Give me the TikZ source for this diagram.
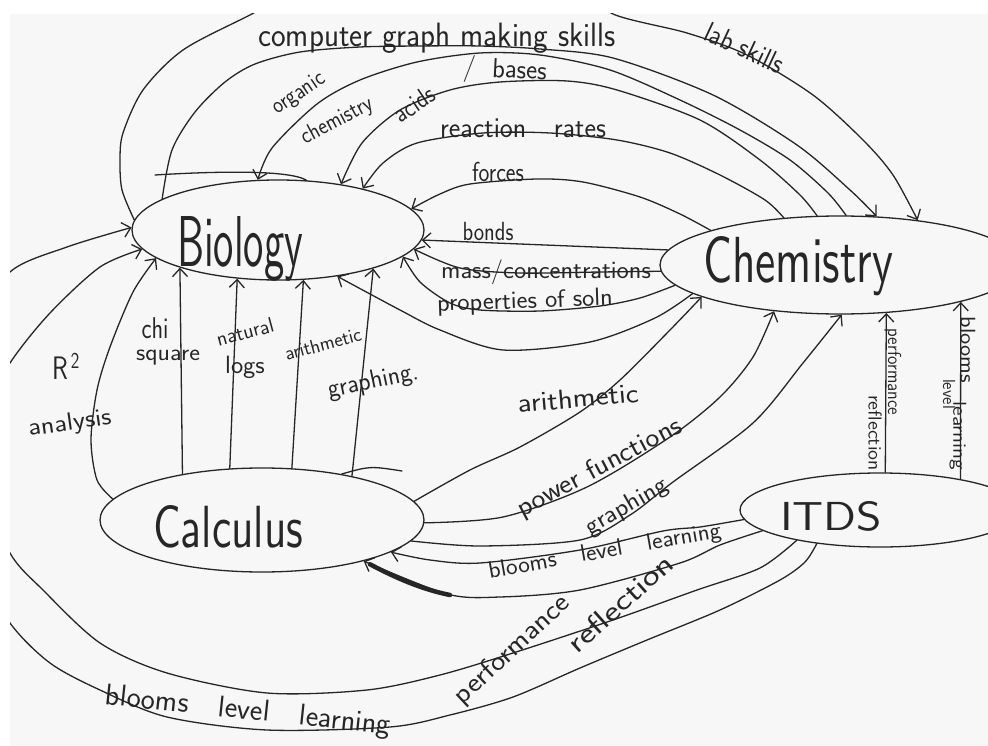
\documentclass[tikz,border=0pt]{standalone}
\usetikzlibrary{shapes.geometric,arrows.meta}
\newcommand\mylbl[3]{\scalebox{#2}[1.25]{\fontsize{#1}{#1}\selectfont\sffamily #3}}
\newcommand\mybig[3]{\resizebox{#1pt}{#2pt}{\sffamily #3}}
\begin{document}
\begin{tikzpicture}[x=1pt,y=-1pt,line cap=round,line join=round,
  ln/.style={draw=black!85,line width=1.3pt},
  arw/.style={ln,-{Straight Barb[length=8pt,width=15pt]}},
  ell/.style={ellipse,draw=black!85,line width=1.3pt,inner sep=0pt},
  lb/.style={inner sep=0pt,text=black!85},
  thk/.style={draw=black!85,line width=4.5pt}]
\useasboundingbox (0,0) rectangle (988,746);
\fill[black!3] (10,14) rectangle (988,746);
\begin{scope}
\clip (10,14) rectangle (988,746);
% ---------- concept nodes ----------
\node[ell,minimum width=292pt,minimum height=100pt] (bio) at (278,230) {};
\node[ell,minimum width=360pt,minimum height=98pt] (chem) at (840,265) {};
\node[ell,minimum width=324pt,minimum height=104pt] (calc) at (262,520) {};
\node[ell,minimum width=280pt,minimum height=74pt] (itds) at (880,510) {};
\node[lb,anchor=base west] (biot) at (177,267) {\mybig{126}{50}{Biology}};
\node[lb,anchor=base west] (chemt) at (703,283) {\mybig{190}{46}{Chemistry}};
\node[lb,anchor=base west] (calct) at (153,547) {\mybig{150}{42}{Calculus}};
\node[lb,anchor=base west] (itdst) at (780,530) {\mybig{102}{29}{ITDS}};
% hand-drawn overshoots of the ellipses
\coordinate (bov) at (155,175);
\coordinate (cov) at (402,471);
\draw[ln] (bio.60) .. controls (290,170) and (220,171) .. (bov);
\draw[ln] (calc.30) .. controls (370,466) .. (cov);
% ---------- Chemistry -> Biology (top arcs) ----------
\draw[arw] plot[smooth] coordinates {(chem.165) (680,214) (640,197) (583,182) (537,179) (470,184) (440,194) (bio.9)};
\draw[arw] plot[smooth] coordinates {(chem.140) (765,200) (720,175) (670,153) (617,140) (550,133) (483,133) (417,143) (383,163) (bio.26)};
\draw[arw] plot[smooth] coordinates {(chem.115) (800,195) (760,160) (700,120) (617,90) (567,81) (500,82) (450,90) (400,110) (362,143) (bio.36)};
\draw[arw] plot[smooth] coordinates {(chem.83) (828,193) (790,160) (740,130) (680,100) (610,70) (540,55) (480,53) (417,62) (360,80) (317,104) (272,148) (bio.112)};
% ---------- Biology -> Chemistry ----------
\draw[arw] plot[smooth] coordinates {(bio.165) (172,150) (195,112) (225,82) (255,64) (300,52) (360,47) (420,46) (480,46) (540,49) (613,58) (713,95) (797,145) (850,190) (chem.53)};
\draw[arw] plot[smooth] coordinates {(bio.176) (122,190) (120,160) (123,133) (143,90) (183,50) (250,15) (330,-25) (470,-40) (580,-15) (613,14) (687,33) (747,55) (813,95) (863,140) (893,175) (chem.30)};
% ---------- Chemistry -> Biology (right side) ----------
\draw[arw] (chem.175) -- (bio.356);
\draw[arw] plot[smooth] coordinates {(chem.182) (600,272) (520,273) (460,268) (bio.352)};
\draw[arw] plot[smooth] coordinates {(chem.187) (640,298) (600,306) (540,311) (480,310) (450,303) (420,282) (bio.348)};
\draw[arw] plot[smooth] coordinates {(chem.191) (655,318) (590,342) (503,350) (440,330) (400,310) (bio.322)};
% ---------- Calculus -> Biology ----------
\draw[arw] (calc.150) -- (bio.201);
\draw[arw] (calc.122) -- (bio.230);
\draw[arw] (calc.60) -- (bio.297);
\draw[arw] (calc.26) -- (bio.338);
\draw[arw] plot[smooth] coordinates {(calc.172) (97,480) (91,440) (97,390) (110,347) (133,292) (bio.193)};
% ---------- Calculus -> Chemistry ----------
\draw[arw] plot[smooth] coordinates {(calc.7) (470,470) (520,447) (580,412) (620,380) (670,330) (chem.193)};
\draw[arw] plot[smooth] coordinates {(calc.359) (503,517) (587,487) (670,437) (720,397) (753,357) (chem.215)};
\draw[arw] plot[smooth] coordinates {(calc.352) (480,546) (580,540) (630,515) (673,482) (753,423) (803,363) (chem.272)};
% ---------- ITDS -> Chemistry ----------
\draw[arw] (itds.82) -- (chem.314);
\draw[arw] (itds.21) -- (chem.343);
% ---------- ITDS -> Calculus ----------
\draw[arw] plot[smooth] coordinates {(itds.184) (700,527) (663,531) (580,550) (480,563) (430,560) (calc.346)};
\draw[arw] plot[smooth] coordinates {(itds.190) (720,545) (680,563) (580,590) (500,597) (447,594) (calc.338)};
\coordinate (tka) at (450,595);
\draw[thk,shorten >=7pt] (tka) .. controls (415,588) and (385,572) .. (calc.338);
% ---------- ITDS -> Biology (bottom loops) ----------
\draw[arw] plot[smooth] coordinates {(itds.208) (805,562) (780,580) (720,610) (647,640) (580,668) (513,697) (450,715) (390,727) (267,730) (167,717) (100,690) (50,663) (10,623) (-25,560) (-40,450) (-25,330) (10,272) (67,247) (bio.179)};
\draw[arw] plot[smooth] coordinates {(itds.200) (760,568) (697,590) (613,620) (513,653) (440,675) (367,690) (267,693) (167,673) (100,643) (43,590) (10,553) (-20,480) (-20,420) (10,363) (50,313) (100,267) (bio.188)};
% ---------- labels ----------
\node[lb] (t1) at (437,38) {\mylbl{27}{1.15}{computer graph making skills}};
\node[lb,rotate=-25] (t2) at (745,48) {\mylbl{23}{1.1}{lab skills}};
\node[lb,rotate=34] (t3) at (299,94) {\mylbl{19}{1.1}{organic}};
\node[lb,rotate=28] (t4) at (337,121) {\mylbl{19}{1.1}{chemistry}};
\node[lb,rotate=34] (t5) at (414,104) {\mylbl{21}{1.1}{acids}};
\node[lb,rotate=-3] (t6) at (505,71) {\mylbl{22}{1.2}{/\ \ bases}};
\node[lb] (t7) at (523,128) {\mylbl{23}{1.2}{reaction\quad rates}};
\node[lb] (t8) at (498,172) {\mylbl{22}{1.05}{forces}};
\node[lb] (t9) at (488,231) {\mylbl{21}{1.05}{bonds}};
\node[lb] (t10) at (546,272) {\mylbl{20}{1.3}{mass/concentrations}};
\node[lb,rotate=2] (t11) at (525,302) {\mylbl{20}{1.3}{properties of soln}};
\node[lb] (t12) at (66,366) {\mylbl{26}{1}{R\textsuperscript{\,2}}};
\node[lb,rotate=8] (t13) at (70,424) {\mylbl{20}{1.4}{analysis}};
\node[lb] (t14) at (155,328) {\mylbl{24}{1}{chi}};
\node[lb] (t15) at (168,358) {\mylbl{19}{1.35}{square}};
\node[lb,rotate=15] (t16) at (245,332) {\mylbl{17}{1.25}{natural}};
\node[lb] (t17) at (245,367) {\mylbl{20}{1.3}{logs}};
\node[lb,rotate=15] (t18) at (323,344) {\mylbl{16}{1.25}{arithmetic}};
\node[lb,rotate=12] (t19) at (373,382) {\mylbl{21}{1.2}{graphing.}};
\node[lb,rotate=5] (t20) at (578,398) {\mylbl{22}{1.4}{arithmetic}};
\node[lb,rotate=28] (t21) at (600,468) {\mylbl{22}{1.35}{power functions}};
\node[lb,rotate=30] (t22) at (627,507) {\mylbl{20}{1.35}{graphing}};
\node[lb,rotate=10] (t23) at (605,552) {\mylbl{19}{1.3}{blooms\quad level\quad learning}};
\node[lb,rotate=43] (t24) at (512,650) {\mylbl{22}{1.4}{performance}};
\node[lb,rotate=42] (t25) at (620,603) {\mylbl{23}{1.6}{reflection}};
\node[lb,rotate=-6] (t26) at (248,712) {\mylbl{24}{1.25}{blooms\quad level\quad learning}};
\node[lb,rotate=-90] (t27) at (893,372) {\mylbl{15}{1.15}{performance}};
\node[lb,rotate=-90] (t28) at (875,433) {\mylbl{15}{1.35}{reflection}};
\node[lb,rotate=-90] (t29) at (968,350) {\mylbl{17}{1.4}{blooms}};
\node[lb,rotate=-90] (t30) at (949,394) {\mylbl{14}{1.2}{level}};
\node[lb,rotate=-90] (t31) at (958,436) {\mylbl{15}{1.45}{learning}};
\end{scope}
\end{tikzpicture}
\end{document}
